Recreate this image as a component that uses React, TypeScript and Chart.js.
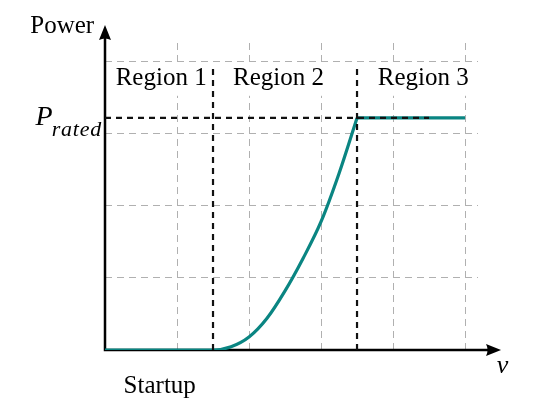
import React, { useEffect, useRef } from "react";
import { Chart, registerables } from "chart.js";

Chart.register(...registerables);

// Data
const curveSpeed = [0, 1.5, 1.75, 2.0, 2.25, 2.5, 2.75, 3.0, 3.25, 3.5];
const curvePower = [0, 0, 0.045, 0.18, 0.44, 0.82, 1.27, 1.78, 2.45, 3.22];
const ratedSpeed = [3.5, 5];
const ratedPower = [3.22, 3.22];
const ratedLevel = 3.22;
const ratedLineEnd = 4.5;
const regionBounds = [1.5, 3.5];
const regionBoundTop = 3.9;
const regionLabels = ["Region 1", "Region 2", "Region 3"];
const regionCenters = [0.78, 2.41, 4.42];
const regionLabelY = 3.68;
const xGrid = [1, 2, 3, 4, 5];
const yGrid = [1, 2, 3, 4];
const xMax = 5.18;
const yMax = 4.26;
const axisXEnd = 5.5;
const axisYEnd = 4.51;

const SERIF = '"Liberation Serif"';

const decorPlugin = {
  id: "decor",
  beforeDatasetsDraw(chart: any) {
    const { ctx } = chart;
    const x = chart.scales.x;
    const y = chart.scales.y;
    const x0 = x.getPixelForValue(0);
    const y0 = y.getPixelForValue(0);
    const xt = x.getPixelForValue(axisXEnd);
    const yt = y.getPixelForValue(axisYEnd);
    ctx.save();
    ctx.strokeStyle = "#000";
    ctx.fillStyle = "#000";
    ctx.lineWidth = 2.5;
    ctx.beginPath();
    ctx.moveTo(x0 - 1.25, y0);
    ctx.lineTo(xt - 10, y0);
    ctx.moveTo(x0, y0 + 1.25);
    ctx.lineTo(x0, yt + 10);
    ctx.stroke();
    ctx.beginPath();
    ctx.moveTo(xt, y0);
    ctx.lineTo(xt - 15, y0 - 6);
    ctx.quadraticCurveTo(xt - 12, y0, xt - 15, y0 + 6);
    ctx.closePath();
    ctx.fill();
    ctx.beginPath();
    ctx.moveTo(x0, yt);
    ctx.lineTo(x0 - 6, yt + 15);
    ctx.quadraticCurveTo(x0, yt + 12, x0 + 6, yt + 15);
    ctx.closePath();
    ctx.fill();
    ctx.restore();
  },
  afterDraw(chart: any) {
    const { ctx } = chart;
    const x = chart.scales.x;
    const y = chart.scales.y;
    ctx.save();
    ctx.fillStyle = "#000";
    ctx.textBaseline = "alphabetic";
    ctx.font = "25px " + SERIF;
    ctx.textAlign = "center";
    const ry = y.getPixelForValue(regionLabelY);
    regionLabels.forEach((t, i) => {
      const cx = x.getPixelForValue(regionCenters[i]);
      const w = ctx.measureText(t).width;
      ctx.fillStyle = "#fff";
      ctx.fillRect(cx - w / 2 - 3, ry - 21, w + 6, 32);
      ctx.fillStyle = "#000";
      ctx.fillText(t, cx, ry);
    });
    ctx.textAlign = "right";
    ctx.fillText("Power", x.getPixelForValue(-0.15), y.getPixelForValue(4.4));
    ctx.textAlign = "center";
    ctx.fillText("Startup", x.getPixelForValue(0.76), y.getPixelForValue(-0.6));
    ctx.textAlign = "left";
    ctx.font = "italic 26px " + SERIF;
    ctx.fillText("v", x.getPixelForValue(5.44), y.getPixelForValue(-0.32));
    const right = x.getPixelForValue(-0.04);
    const base = y.getPixelForValue(ratedLevel);
    ctx.font = "italic 22px " + SERIF;
    (ctx as any).letterSpacing = "0.8px";
    const sw = ctx.measureText("rated").width;
    const rl = right - sw;
    ctx.fillText("rated", rl, base + 18);
    (ctx as any).letterSpacing = "0px";
    ctx.font = "italic 28px " + SERIF;
    const pw = ctx.measureText("P").width;
    ctx.fillText("P", rl - pw + 1, base + 7);
    ctx.restore();
  },
};

export default function App() {
  const ref = useRef<HTMLCanvasElement | null>(null);
  useEffect(() => {
    if (!ref.current) return;
    const pts = (xs: number[], ys: number[]) => xs.map((v, i) => ({ x: v, y: ys[i] }));
    const dash = (xs: number[], ys: number[]) => ({
      data: pts(xs, ys),
      borderColor: "#111",
      borderWidth: 2.2,
      borderDash: [6, 5],
      pointRadius: 0,
    });
    const chart = new Chart(ref.current, {
      type: "line",
      data: {
        datasets: [
          dash([0, ratedLineEnd], [ratedLevel, ratedLevel]),
          dash([regionBounds[0], regionBounds[0]], [0, regionBoundTop]),
          dash([regionBounds[1], regionBounds[1]], [0, regionBoundTop]),
          {
            data: pts(curveSpeed, curvePower),
            borderColor: "#0a8582",
            borderWidth: 3.2,
            pointRadius: 0,
            cubicInterpolationMode: "monotone",
          },
          {
            data: pts(ratedSpeed, ratedPower),
            borderColor: "#0a8582",
            borderWidth: 3.2,
            pointRadius: 0,
          },
        ],
      },
      options: {
        animation: false,
        responsive: false,
        devicePixelRatio: 1,
        parsing: false,
        layout: { padding: { left: 105, right: 58, top: 43, bottom: 64 } },
        plugins: { legend: { display: false }, tooltip: { enabled: false } },
        scales: {
          x: {
            type: "linear",
            min: 0,
            max: xMax,
            afterBuildTicks: (s: any) => {
              s.ticks = xGrid.map((v) => ({ value: v }));
            },
            ticks: { display: false },
            grid: { color: "#b0b0b0", lineWidth: 1, drawTicks: false },
            border: { display: false, dash: [7, 5] },
          },
          y: {
            type: "linear",
            min: 0,
            max: yMax,
            afterBuildTicks: (s: any) => {
              s.ticks = yGrid.map((v) => ({ value: v }));
            },
            ticks: { display: false },
            grid: { color: "#b0b0b0", lineWidth: 1, drawTicks: false },
            border: { display: false, dash: [7, 5] },
          },
        },
      } as any,
      plugins: [decorPlugin],
    });
    const t = setTimeout(() => {
      try { chart.draw(); } catch (e) {}
    }, 200);
    return () => {
      clearTimeout(t);
      chart.destroy();
    };
  }, []);
  return (
    <div style={{ position: "fixed", left: 0, top: 0, width: 536, height: 414, background: "#fff" }}>
      <canvas ref={ref} width={536} height={414} style={{ width: 536, height: 414 }} />
    </div>
  );
}
